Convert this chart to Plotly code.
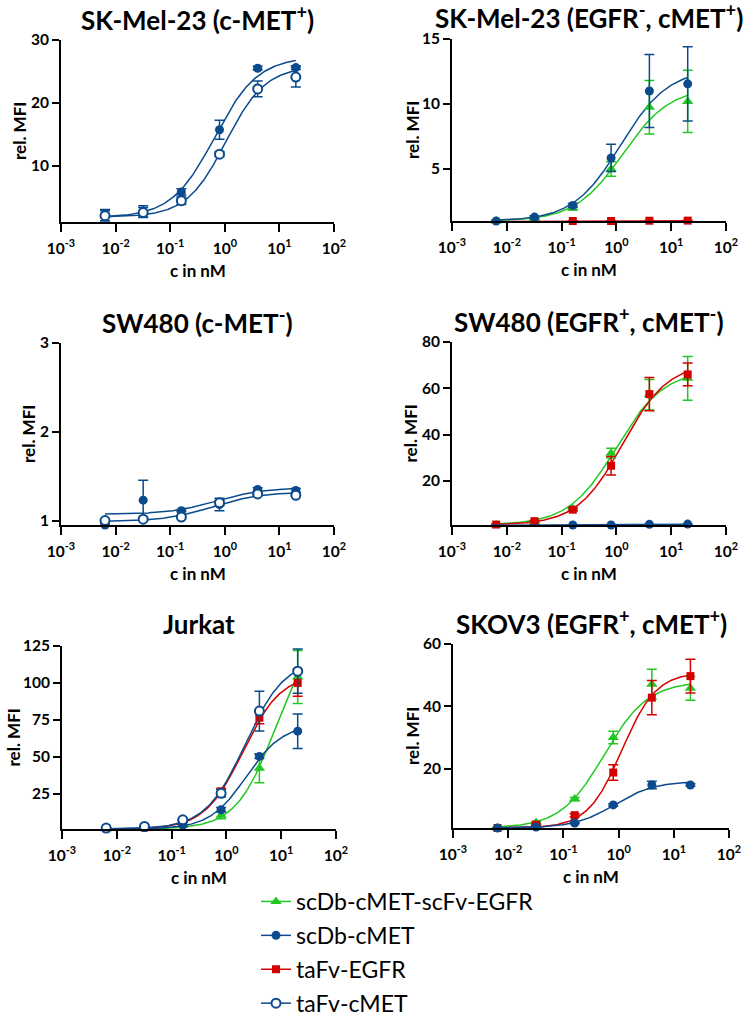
import numpy as np
import plotly.graph_objects as go

# ---------------- data ----------------
conc = [0.0064, 0.032, 0.16, 0.8, 4, 20]
xtick_vals = [0.001, 0.01, 0.1, 1, 10, 100]
xtick_text = ["10<sup>-3</sup>", "10<sup>-2</sup>", "10<sup>-1</sup>",
              "10<sup>0</sup>", "10<sup>1</sup>", "10<sup>2</sup>"]

series_names = ["scDb-cMET-scFv-EGFR", "scDb-cMET", "taFv-EGFR", "taFv-cMET"]

# Panel 1: SK-Mel-23 (c-MET+)
p1_scdb_cmet = [2.1, 2.7, 5.8, 15.7, 25.5, 25.6]
p1_scdb_cmet_err = [0.9, 0.9, 0.5, 1.5, 0.3, 0.3]
p1_tafv_cmet = [2.0, 2.5, 4.4, 11.8, 22.2, 24.1]
p1_tafv_cmet_err = [0.8, 0.8, 0.6, 0.4, 1.25, 1.6]

# Panel 2: SK-Mel-23 (EGFR-, cMET+)
p2_scdb_egfr = [1.0, 1.2, 2.0, 5.0, 9.75, 10.2]
p2_scdb_egfr_err = [0.05, 0.1, 0.15, 0.55, 2.05, 2.4]
p2_scdb_cmet = [1.0, 1.3, 2.2, 5.85, 11.0, 11.55]
p2_scdb_cmet_err = [0.05, 0.1, 0.15, 1.05, 2.8, 2.85]
p2_tafv_egfr = [0.95, 0.95, 1.0, 1.0, 1.02, 1.03]
p2_tafv_egfr_err = [0.02, 0.02, 0.02, 0.02, 0.02, 0.02]

# Panel 3: SW480 (c-MET-)
p3_scdb_cmet = [0.95, 1.23, 1.11, 1.18, 1.35, 1.34]
p3_scdb_cmet_err = [0.01, 0.225, 0.01, 0.07, 0.02, 0.02]
p3_tafv_cmet = [1.0, 1.015, 1.04, 1.2, 1.3, 1.285]
p3_tafv_cmet_err = [0.01, 0.01, 0.01, 0.03, 0.01, 0.01]

# Panel 4: SW480 (EGFR+, cMET-)
p4_scdb_egfr = [1.0, 2.5, 8.0, 32.0, 57.2, 64.3]
p4_scdb_egfr_err = [0.2, 0.3, 0.5, 2.1, 6.6, 9.4]
p4_tafv_egfr = [1.2, 2.65, 7.6, 26.6, 57.5, 66.0]
p4_tafv_egfr_err = [0.2, 0.3, 0.6, 4.0, 7.2, 4.9]
p4_scdb_cmet = [0.9, 0.95, 1.0, 1.0, 1.3, 1.4]
p4_scdb_cmet_err = [0.05, 0.05, 0.05, 0.05, 0.05, 0.05]

# Panel 5: Jurkat
p5_scdb_egfr = [1.2, 1.5, 3.5, 10.4, 42.1, 104.0]
p5_scdb_egfr_err = [0.2, 0.3, 0.5, 2.5, 9.7, 18.0]
p5_tafv_egfr = [1.5, 2.0, 6.0, 26.5, 76.4, 100.0]
p5_tafv_egfr_err = [0.2, 0.3, 0.6, 2.0, 4.0, 9.0]
p5_scdb_cmet = [1.5, 2.0, 3.6, 14.0, 50.2, 67.3]
p5_scdb_cmet_err = [0.2, 0.3, 0.5, 1.5, 1.5, 11.7]
p5_tafv_cmet = [1.6, 2.7, 7.2, 25.2, 80.9, 107.9]
p5_tafv_cmet_err = [0.2, 0.3, 0.6, 2.5, 13.5, 15.0]

# Panel 6: SKOV3 (EGFR+, cMET+)
p6_scdb_egfr = [1.0, 2.8, 10.3, 30.0, 47.1, 45.8]
p6_scdb_egfr_err = [0.2, 0.3, 0.5, 2.0, 4.8, 3.8]
p6_tafv_egfr = [1.0, 2.1, 5.1, 18.8, 42.8, 49.7]
p6_tafv_egfr_err = [0.2, 0.3, 0.5, 2.5, 5.5, 5.4]
p6_scdb_cmet = [1.0, 1.3, 2.6, 8.4, 14.8, 14.8]
p6_scdb_cmet_err = [0.1, 0.1, 0.2, 0.4, 1.2, 0.4]

# fitted 4PL parameters (bottom, top, EC50 in nM, Hill slope)
p1_fit = {"scDb-cMET": [1.7, 27.3, 0.65, 1.1], "taFv-cMET": [1.8, 25.8, 1.05, 1.2]}
p2_fit = {"scDb-cMET-scFv-EGFR": [1.0, 11.3, 1.3, 1.0], "scDb-cMET": [1.0, 12.7, 1.2, 1.0],
          "taFv-EGFR": [0.95, 1.03, 1.0, 1.0]}
p3_fit = {"scDb-cMET": [1.07, 1.37, 0.7, 1.0], "taFv-cMET": [0.99, 1.32, 0.6, 1.0]}
p4_fit = {"scDb-cMET-scFv-EGFR": [1.0, 68.0, 1.0, 1.0], "taFv-EGFR": [1.0, 71.0, 1.3, 1.05],
          "scDb-cMET": [0.9, 1.4, 1.0, 1.0]}
p5_fit = {"scDb-cMET-scFv-EGFR": [1.0, 140.0, 8.0, 1.2], "taFv-EGFR": [1.0, 106.0, 2.0, 1.25],
          "scDb-cMET": [1.0, 72.0, 2.3, 1.3], "taFv-cMET": [1.0, 116.0, 2.2, 1.2]}
p6_fit = {"scDb-cMET-scFv-EGFR": [1.0, 48.0, 0.55, 1.1], "taFv-EGFR": [1.0, 51.0, 1.15, 1.4],
          "scDb-cMET": [1.0, 16.0, 0.85, 1.2]}

titles = ["SK-Mel-23 (c-MET<sup>+</sup>)", "SK-Mel-23 (EGFR<sup>-</sup>, cMET<sup>+</sup>)",
          "SW480 (c-MET<sup>-</sup>)", "SW480 (EGFR<sup>+</sup>, cMET<sup>-</sup>)",
          "Jurkat", "SKOV3 (EGFR<sup>+</sup>, cMET<sup>+</sup>)"]
y_ranges = [[1, 30], [1, 15], [0.95, 3], [1, 80], [1, 125], [1, 60]]
y_ticks = [[10, 20, 30], [5, 10, 15], [1, 2, 3], [20, 40, 60, 80], [25, 50, 75, 100, 125], [20, 40, 60]]

panels = [
    ({"scDb-cMET": (p1_scdb_cmet, p1_scdb_cmet_err), "taFv-cMET": (p1_tafv_cmet, p1_tafv_cmet_err)}, p1_fit),
    ({"scDb-cMET-scFv-EGFR": (p2_scdb_egfr, p2_scdb_egfr_err), "taFv-EGFR": (p2_tafv_egfr, p2_tafv_egfr_err),
      "scDb-cMET": (p2_scdb_cmet, p2_scdb_cmet_err)}, p2_fit),
    ({"scDb-cMET": (p3_scdb_cmet, p3_scdb_cmet_err), "taFv-cMET": (p3_tafv_cmet, p3_tafv_cmet_err)}, p3_fit),
    ({"scDb-cMET-scFv-EGFR": (p4_scdb_egfr, p4_scdb_egfr_err), "taFv-EGFR": (p4_tafv_egfr, p4_tafv_egfr_err),
      "scDb-cMET": (p4_scdb_cmet, p4_scdb_cmet_err)}, p4_fit),
    ({"scDb-cMET-scFv-EGFR": (p5_scdb_egfr, p5_scdb_egfr_err), "taFv-EGFR": (p5_tafv_egfr, p5_tafv_egfr_err),
      "scDb-cMET": (p5_scdb_cmet, p5_scdb_cmet_err), "taFv-cMET": (p5_tafv_cmet, p5_tafv_cmet_err)}, p5_fit),
    ({"scDb-cMET-scFv-EGFR": (p6_scdb_egfr, p6_scdb_egfr_err), "taFv-EGFR": (p6_tafv_egfr, p6_tafv_egfr_err),
      "scDb-cMET": (p6_scdb_cmet, p6_scdb_cmet_err)}, p6_fit),
]

# ---------------- style ----------------
W, H = 748, 1019
BLUE = "#0B4A8C"
GREEN = "#22C822"
RED = "#D40000"
FONT = "Lato"
styles = {
    "scDb-cMET-scFv-EGFR": dict(color=GREEN, symbol="triangle-up", size=10, fill=GREEN),
    "scDb-cMET": dict(color=BLUE, symbol="circle", size=9, fill=BLUE),
    "taFv-EGFR": dict(color=RED, symbol="square", size=8, fill=RED),
    "taFv-cMET": dict(color=BLUE, symbol="circle", size=9, fill="white"),
}
order = ["scDb-cMET-scFv-EGFR", "taFv-EGFR", "scDb-cMET", "taFv-cMET"]

# pixel boxes (left, right, top, bottom)
boxes = [(61, 334, 40, 222), (452, 726, 39, 221),
         (61, 334, 343, 525), (452, 726, 342, 525),
         (62, 336, 646, 829), (453, 729, 644, 828)]
ytitle_x = [19, 412, 28, 410, 13, 412]


def four_pl(x, b, t, ec50, h):
    x = np.asarray(x, dtype=float)
    return b + (t - b) / (1 + (ec50 / x) ** h)


xfit = np.logspace(np.log10(conc[0]), np.log10(conc[-1]), 200)

fig = go.Figure()
layout = {}
annotations = []
for i, ((data, fits), box) in enumerate(zip(panels, boxes)):
    k = "" if i == 0 else str(i + 1)
    xa, ya = "x" + k, "y" + k
    L, R, T, B = box
    # curves first
    for name in order:
        if name in fits:
            st = styles[name]
            fig.add_trace(go.Scatter(x=xfit, y=four_pl(xfit, *fits[name]), mode="lines",
                                     line=dict(color=st["color"], width=1.5), xaxis=xa, yaxis=ya,
                                     showlegend=False, hoverinfo="skip", cliponaxis=False))
    for name in order:
        if name in data:
            st = styles[name]
            vals, errs = data[name]
            fig.add_trace(go.Scatter(
                x=conc, y=vals, mode="markers", xaxis=xa, yaxis=ya, showlegend=False, name=name,
                cliponaxis=False,
                marker=dict(symbol=st["symbol"], size=st["size"], color=st["fill"],
                            line=dict(color=st["color"], width=2 if st["fill"] == "white" else 0)),
                error_y=dict(type="data", array=errs, color=st["color"], thickness=1.5, width=5)))
    layout["xaxis" + k] = dict(
        type="log", range=[-3, 2], domain=[L / W, R / W], anchor=ya, automargin=False,
        tickmode="array", tickvals=xtick_vals, ticktext=xtick_text,
        showline=True, linecolor="black", linewidth=2, ticks="outside", ticklen=8, tickwidth=2,
        tickcolor="black", showgrid=False, zeroline=False, ticklabelstandoff=3,
        tickfont=dict(family=FONT, size=15.5, color="black", weight="bold"))
    layout["yaxis" + k] = dict(
        range=y_ranges[i], domain=[1 - B / H, 1 - T / H], anchor=xa, automargin=False,
        tickmode="array", tickvals=y_ticks[i],
        showline=True, linecolor="black", linewidth=2, ticks="outside", ticklen=7, tickwidth=2,
        tickcolor="black", showgrid=False, zeroline=False,
        tickfont=dict(family=FONT, size=15.5, color="black", weight="bold"))
    cx = (L + R) / 2
    annotations.append(dict(text=titles[i], x=cx / W, y=1 - (T - 22) / H, xref="paper", yref="paper",
                            xanchor="center", yanchor="middle", showarrow=False,
                            font=dict(family=FONT, size=26, color="black", weight="bold")))
    annotations.append(dict(text="c in nM", x=cx / W, y=1 - (B + 48) / H, xref="paper", yref="paper",
                            xanchor="center", yanchor="middle", showarrow=False,
                            font=dict(family=FONT, size=17, color="black", weight="bold")))
    annotations.append(dict(text="rel. MFI", x=ytitle_x[i] / W, y=1 - (T + B) / 2 / H, xref="paper",
                            yref="paper", xanchor="center", yanchor="middle", showarrow=False,
                            textangle=-90,
                            font=dict(family=FONT, size=17, color="black", weight="bold")))

# legend entries
for j, name in enumerate(series_names):
    st = styles[name]
    fig.add_trace(go.Scatter(
        x=[None], y=[None], mode="lines+markers", name=name, legendgroup=name,
        line=dict(color=st["color"], width=1.5),
        marker=dict(symbol=st["symbol"], size=st["size"], color=st["fill"],
                    line=dict(color=st["color"], width=2 if st["fill"] == "white" else 0))))

fig.update_layout(
    width=W, height=H, margin=dict(l=0, r=0, t=0, b=0, autoexpand=False),
    paper_bgcolor="white", plot_bgcolor="white",
    annotations=annotations,
    legend=dict(x=256 / W, y=1 - 880 / H, xanchor="left", yanchor="top",
                font=dict(family=FONT, size=23, color="black"),
                tracegroupgap=1, bgcolor="rgba(0,0,0,0)"),
    **layout)

fig.write_html("out.html")
